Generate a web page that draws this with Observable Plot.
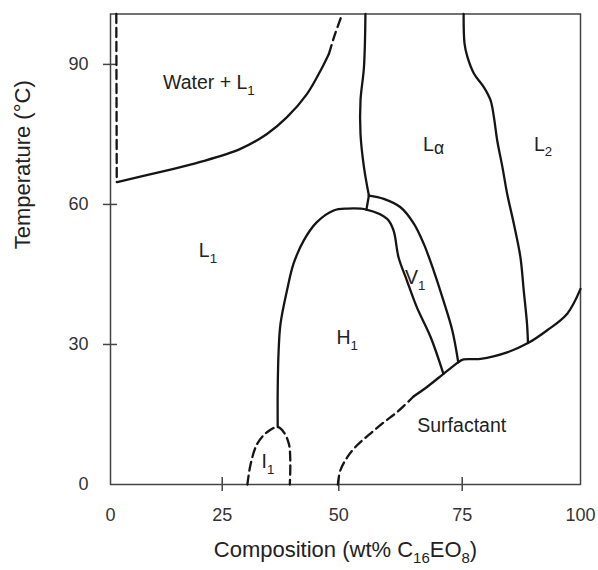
<!DOCTYPE html>
<html><head><meta charset="utf-8">
<script src="https://cdn.jsdelivr.net/npm/d3@7"></script>
<script src="https://cdn.jsdelivr.net/npm/@observablehq/plot@0.6"></script>
<style>body{margin:0;background:#fff;} svg{display:block;}</style>
</head><body><div id="chart"></div>
<script>
// ---- tick values ----
const xTickValues = [0, 25, 50, 75, 100];
const xTickMarks = [25, 50, 75];
const yTickValues = [0, 30, 60, 90];
const yTickMarks = [30, 60, 90];
const yMax = 100.8;
// where each x tick sits along the printed axis (percent of axis length) — the original axis is slightly uneven
const xTickAxisPercent = [0, 23.77, 48.57, 74.83, 100];

// ---- phase boundaries [composition wt%, temperature °C] ----
const waterDashedLeft = [[1.3, 100.8], [1.4, 64.8]];
const waterSolid = [[1.5, 64.8], [12.7, 67.3], [20.1, 69.1], [28.9, 71.9], [34.6, 75.1], [38.9, 78.7], [43.2, 83.7], [46.1, 88.7], [47.9, 92.3]];
const waterDashedTop = [[47.9, 92.3], [49.1, 96.2], [50.7, 100.8]];
const lalphaLeft = [[55.4, 100.8], [55.1, 89.4], [54.4, 82.3], [54.4, 75.1], [55.1, 68.0], [56.1, 61.9]];
const junction = [[56.1, 61.9], [55.6, 58.9]];
const h1Boundary = [[36.9, 12.3], [36.9, 20.1], [37.1, 28.7], [37.5, 34.4], [38.9, 41.6], [40.3, 47.3], [42.5, 52.3], [45.3, 56.2], [48.9, 58.7], [51.7, 59.1], [55.6, 58.9], [59.8, 56.9], [61.1, 54.4], [62.1, 48.7], [63.8, 43.7], [65.8, 38.0], [68.6, 31.6], [71.2, 23.7]];
const v1Right = [[56.1, 61.9], [59.1, 61.2], [62.5, 59.4], [65.2, 55.9], [67.2, 51.6], [69.2, 45.9], [71.2, 39.4], [73.0, 33.0], [74.2, 26.2]];
const surfDashed = [[49.8, 0], [50.3, 3.0], [51.7, 5.8], [53.7, 8.4], [56.4, 10.9], [59.1, 13.3], [61.8, 15.5], [65.2, 18.9]];
const surfSolidA = [[65.2, 18.9], [68.0, 21.0], [71.2, 23.7], [74.2, 26.2]];
const surfSolidB = [[74.2, 26.2], [75.3, 26.8], [78.9, 26.9], [84.5, 28.3], [88.9, 30.3], [92.9, 33.0], [97.2, 36.6], [100, 41.9]];
const l2Boundary = [[75.3, 100.8], [75.5, 94.4], [76.1, 91.6], [77.5, 88.0], [79.6, 85.1], [81.0, 82.3], [81.7, 78.7], [82.4, 73.7], [83.5, 68.0], [84.5, 62.3], [85.9, 55.9], [87.3, 48.7], [88.0, 41.6], [88.7, 34.4], [88.9, 30.3]];
const i1Dome = [[30.4, 0], [31.1, 4.4], [32.5, 8.7], [34.6, 11.2], [36.9, 12.3], [38.2, 11.2], [39.3, 8.7], [39.6, 5.1], [39.5, 0]];

// ---- region labels ----
const labelText = ["Water + L_{1}", "L_{α}", "L_{2}", "L_{1}", "H_{1}", "V_{1}", "Surfactant", "I_{1}"];
const labelX = [22.0, 69.2, 92.1, 21.8, 51.7, 65.5, 74.9, 34.8];
const labelY = [86.0, 72.8, 72.8, 50.0, 31.4, 44.2, 12.5, 4.8];
const xTitle = "Composition (wt% C_{16}EO_{8})";
const yTitle = "Temperature (°C)";

// ---- layout ----
const W = 598, H = 570, mL = 110, mR = 18, mT = 13.5, mB = 86;
const innerW = W - mL - mR, innerH = H - mT - mB;
const xWarp = d3.scaleLinear().domain(xTickValues).range(xTickAxisPercent);

const curves = [
  {pts: waterDashedLeft, dashed: true, curve: "linear"},
  {pts: waterSolid, dashed: false, curve: "catmull-rom"},
  {pts: waterDashedTop, dashed: true, curve: "catmull-rom"},
  {pts: lalphaLeft, dashed: false, curve: "catmull-rom"},
  {pts: junction, dashed: false, curve: "linear"},
  {pts: h1Boundary, dashed: false, curve: "catmull-rom"},
  {pts: v1Right, dashed: false, curve: "catmull-rom"},
  {pts: surfDashed, dashed: true, curve: "catmull-rom"},
  {pts: surfSolidA, dashed: false, curve: "catmull-rom"},
  {pts: surfSolidB, dashed: false, curve: "catmull-rom"},
  {pts: l2Boundary, dashed: false, curve: "catmull-rom"},
  {pts: i1Dome, dashed: true, curve: "catmull-rom"}
];

const labels = labelText.map((t, i) => ({t, x: labelX[i], y: labelY[i]}));

const lineMarks = curves.map(c => Plot.line(c.pts, {
  x: d => d[0], y: d => d[1], curve: c.curve,
  stroke: "#151515", strokeWidth: 2.3,
  strokeDasharray: c.dashed ? "9,5" : null
}));

const chart = Plot.plot({
  width: W, height: H,
  marginLeft: mL, marginRight: mR, marginTop: mT, marginBottom: mB,
  style: {fontFamily: "'Liberation Sans', Arial, Helvetica, sans-serif", background: "white", color: "#333"},
  x: {type: "linear", domain: [0, 100], transform: xWarp},
  y: {domain: [0, yMax]},
  marks: [
    Plot.frame({stroke: "#444", strokeWidth: 1.5}),
    Plot.tickX(xTickMarks, {x: d => d, stroke: "#444", strokeWidth: 1.5, insetTop: innerH - 7, insetBottom: -7}),
    Plot.tickY(yTickMarks, {y: d => d, stroke: "#444", strokeWidth: 1.5, insetLeft: -7, insetRight: innerW - 7}),
    Plot.axisX(xTickValues, {tickSize: 0, tickPadding: 24, fontSize: 18, label: null, fill: "#333"}),
    Plot.axisY(yTickValues, {tickSize: 0, tickPadding: 22, fontSize: 18, label: null, fill: "#333"}),
    ...lineMarks,
    Plot.text(labels, {x: "x", y: "y", text: "t", fontSize: 19.5, fill: "#222"}),
    Plot.text([xTitle], {text: d => d, frameAnchor: "bottom", dy: 72, fontSize: 22, fill: "#222"}),
    Plot.text([yTitle], {text: d => d, frameAnchor: "left", rotate: -90, dx: -88, fontSize: 22, fill: "#222"})
  ]
});

document.getElementById("chart").appendChild(chart);

// ---- subscripts: turn "_{...}" into real subscript tspans ----
const NS = "http://www.w3.org/2000/svg";
chart.querySelectorAll("text").forEach(el => {
  const s = el.textContent;
  if (!s.includes("_{")) return;
  const fs = parseFloat(getComputedStyle(el).fontSize) || 16;
  const parts = s.split(/(_\{[^}]*\})/).filter(p => p.length);
  el.textContent = "";
  let back = 0;
  parts.forEach(p => {
    const ts = document.createElementNS(NS, "tspan");
    if (p.startsWith("_{")) {
      const txt = p.slice(2, -1);
      const greek = /[α-ω]/.test(txt);
      const shift = fs * (greek ? 0.16 : 0.28);
      ts.textContent = txt;
      ts.setAttribute("font-size", (fs * (greek ? 0.9 : 0.68)).toFixed(2));
      ts.setAttribute("dy", shift.toFixed(2));
      back = shift;
    } else {
      ts.textContent = p;
      if (back) { ts.setAttribute("dy", (-back).toFixed(2)); back = 0; }
    }
    el.appendChild(ts);
  });
});
</script>
</body></html>
